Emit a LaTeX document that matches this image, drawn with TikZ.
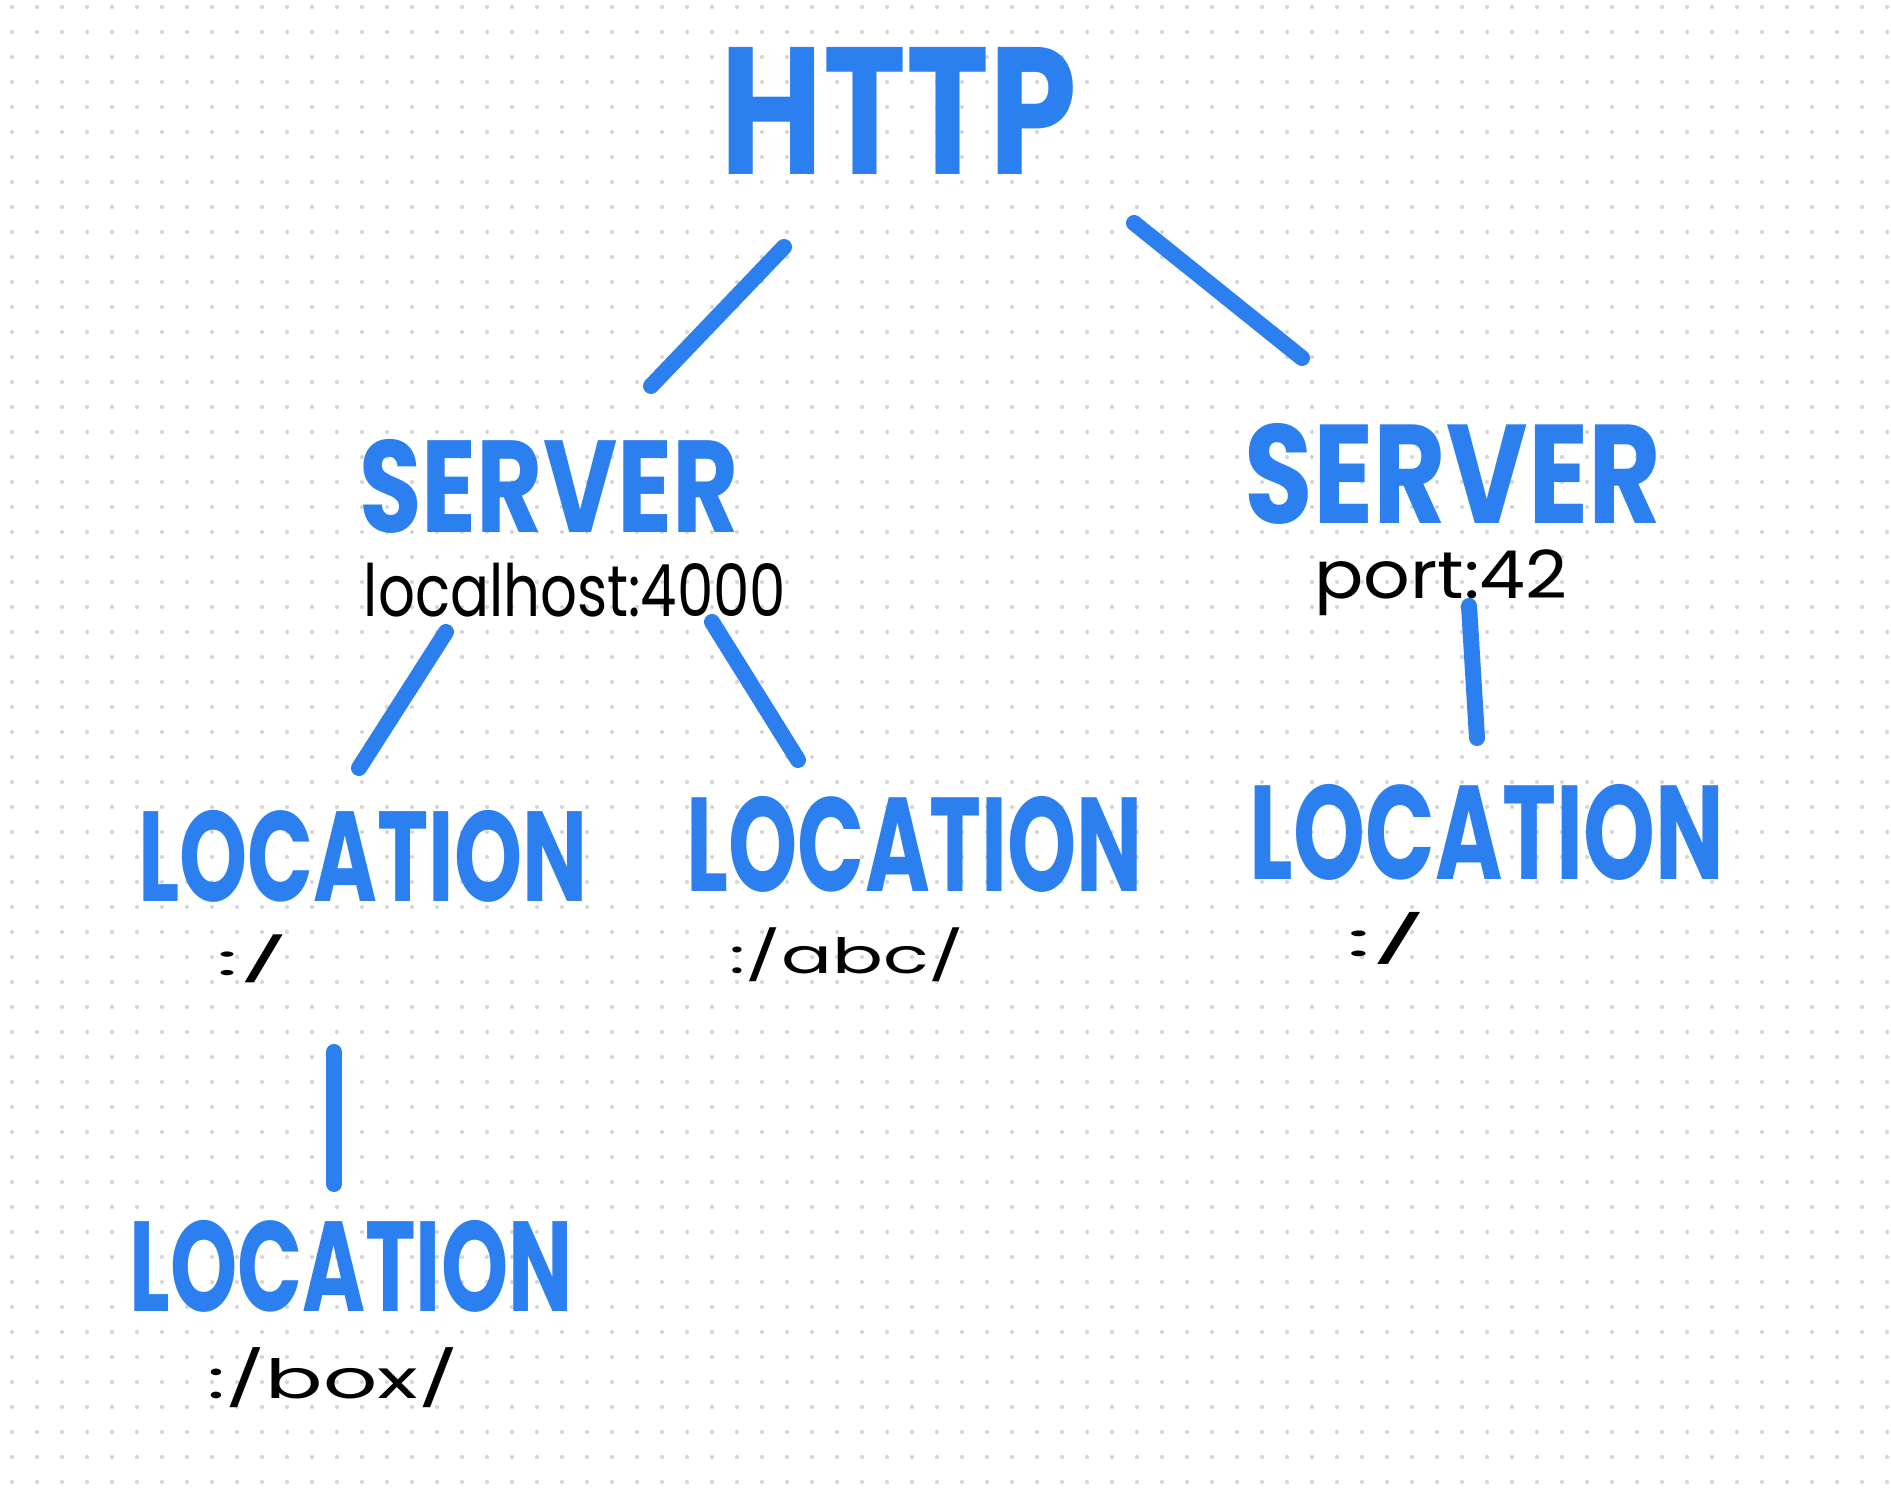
\documentclass[tikz,border=0pt]{standalone}
\usepackage{fontspec}
\usepackage{graphicx}
\usepackage{xcolor}
\usepackage{tikz}
\newfontfamily\handfont{Poppins}
\definecolor{crayon}{HTML}{2B7FEF}
\definecolor{griddot}{HTML}{D6D6D6}
\newcommand{\fitbox}[3]{\resizebox*{#1}{#2}{#3}}

\begin{document}
\begin{tikzpicture}[x=0.01cm,y=-0.01cm,semithick]
	\tikzstyle{big}=[inner sep=0pt,text=crayon,font=\handfont\bfseries]
	\tikzstyle{small}=[inner sep=0pt,text=black,font=\handfont]
	\tikzstyle{link}=[draw=crayon,line width=0.16cm,line cap=round]
	\useasboundingbox (0,0) rectangle (1891,1492);
	\fill[white] (0,0) rectangle (1891,1492);
	% dotted paper
	\foreach \i in {0,...,75}
		\foreach \j in {0,...,59}
			\fill[griddot] (12+25*\i,7+25*\j) circle (0.6pt);

	\node[big] (http) at (899,111) {\fitbox{3.56cm}{1.27cm}{HTTP}};

	\node[big] (srvA) at (549,486) {\fitbox{3.79cm}{0.94cm}{SERVER}};
	\node[small] (hostA) at (575,590) {\fitbox{4.22cm}{0.54cm}{localhost:4000}};
	\node[big] (srvB) at (1453,474) {\fitbox{4.16cm}{1.01cm}{SERVER}};
	\node[small] (hostB) at (1441,583) {\fitbox{2.53cm}{0.66cm}{port:42}};

	\node[big] (locA) at (363,856) {\fitbox{4.49cm}{0.92cm}{LOCATION}};
	\node[small] (pathA) at (253,959) {\fitbox{0.72cm}{0.48cm}{:/}};
	\node[big] (locB) at (915,844) {\fitbox{4.56cm}{0.96cm}{LOCATION}};
	\node[small] (pathB) at (847,955) {\fitbox{2.35cm}{0.54cm}{:/abc/}};
	\node[big] (locC) at (1487,832) {\fitbox{4.74cm}{0.96cm}{LOCATION}};
	\node[small] (pathC) at (1387,938) {\fitbox{0.81cm}{0.52cm}{:/}};
	\node[big] (locD) at (351,1266) {\fitbox{4.43cm}{0.92cm}{LOCATION}};
	\node[small] (pathD) at (333,1378) {\fitbox{2.51cm}{0.60cm}{:/box/}};

	% ends of the strokes
	\coordinate (hA1) at (784,247);  \coordinate (hA2) at (651,386);
	\coordinate (hB1) at (1134,223); \coordinate (hB2) at (1302,358);
	\coordinate (sA1) at (446,632);  \coordinate (sA2) at (359,768);
	\coordinate (sB1) at (712,622);  \coordinate (sB2) at (798,760);
	\coordinate (sC1) at (1469,606); \coordinate (sC2) at (1477,738);
	\coordinate (lA1) at (334,1052); \coordinate (lA2) at (334,1184);
	\path[link]
		(hA1) edge (hA2)
		(hB1) edge (hB2)
		(sA1) edge (sA2)
		(sB1) edge (sB2)
		(sC1) edge (sC2)
		(lA1) edge (lA2);
\end{tikzpicture}
\end{document}
